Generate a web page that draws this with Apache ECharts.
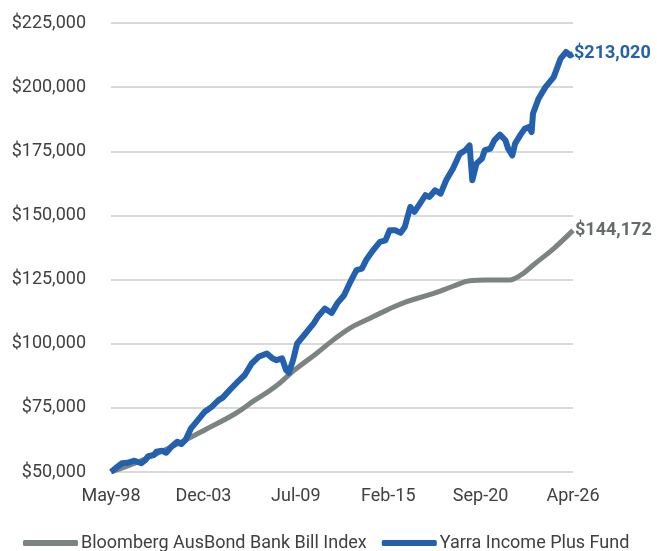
<!DOCTYPE html>
<html>
<head>
<meta charset="utf-8">
<script src="https://cdn.jsdelivr.net/npm/echarts@6/dist/echarts.min.js"></script>
<style>
  html, body { margin: 0; padding: 0; background: #fff; }
  #chart { width: 657px; height: 551px; }
</style>
</head>
<body>
<div id="chart"></div>
<script>
const xTickLabels = ['May-98', 'Dec-03', 'Jul-09', 'Feb-15', 'Sep-20', 'Apr-26'];
const seriesNames = ['Bloomberg AusBond Bank Bill Index', 'Yarra Income Plus Fund'];

const benchDates = ['1998-05', '2000-01', '2001-08', '2002-11', '2004-01', '2005-11', '2007-01',
  '2008-04', '2009-06', '2010-10', '2011-10', '2012-10', '2013-10', '2015-01', '2016-03', '2017-11',
  '2019-01', '2020-01', '2021-01', '2022-05', '2023-02', '2023-11', '2025-02', '2026-04'];
const benchValues = [50000, 54000, 58600, 62500, 66400, 72700, 77900,
  83200, 89700, 96200, 101400, 106000, 109200, 113100, 116300, 119600,
  122400, 124500, 124800, 124800, 126700, 130600, 137100, 144172];

const fundDates = ['1998-05', '1998-09', '1999-01', '1999-05', '1999-10', '2000-03', '2000-06', '2000-08',
  '2000-12', '2001-02', '2001-06', '2001-09', '2002-01', '2002-05', '2002-08', '2002-11', '2003-03',
  '2003-08', '2004-01', '2004-06', '2004-11', '2005-02', '2005-07', '2006-01', '2006-06', '2006-11',
  '2007-04', '2007-10', '2008-02', '2008-05', '2008-09', '2008-12', '2009-02', '2009-05', '2009-08',
  '2010-01', '2010-04', '2010-08', '2010-11', '2011-04', '2011-09', '2012-01', '2012-06', '2012-10',
  '2013-03', '2013-07', '2013-10', '2014-03', '2014-08', '2014-12', '2015-03', '2015-07', '2015-11',
  '2016-02', '2016-06', '2016-09', '2017-01', '2017-05', '2017-08', '2017-12', '2018-04', '2018-08',
  '2019-01', '2019-06', '2019-10', '2020-01', '2020-03', '2020-06', '2020-10', '2020-12', '2021-04',
  '2021-07', '2021-11', '2022-03', '2022-05', '2022-08', '2022-10', '2023-02', '2023-05', '2023-08',
  '2023-10', '2023-11', '2024-03', '2024-08', '2025-02', '2025-07', '2025-11', '2026-02', '2026-04'];
const fundValues = [50000, 51800, 53400, 53600, 54400, 53400, 54700, 56200,
  56600, 57900, 58300, 57500, 59900, 61800, 60900, 62500, 67000,
  70200, 73500, 75400, 78000, 79000, 81900, 85200, 87800, 92300,
  94900, 96200, 94300, 93600, 94300, 89700, 88700, 93600, 100100,
  103300, 105300, 107900, 110500, 113700, 112000, 115700, 118900, 123500,
  128700, 129300, 132600, 136400, 139700, 140300, 144200, 144200, 143200,
  145500, 153300, 151400, 154600, 157900, 157200, 159800, 158500, 163700,
  168300, 174100, 175400, 177300, 163700, 170200, 172200, 175400, 176000,
  179300, 181500, 179300, 176000, 173400, 178000, 181500, 183800, 184500,
  182500, 189700, 195500, 200000, 203900, 211100, 213700, 212400, 213020];

// months since May-98
function monthIndex(d) {
  const [y, m] = d.split('-').map(Number);
  return (y - 1998) * 12 + (m - 5);
}
function pairs(dates, values) {
  return dates.map((d, i) => [monthIndex(d), values[i]]);
}
function money(v) {
  return '$' + Math.round(v).toLocaleString('en-US');
}

const blue = '#2360ad';
const grey = '#7c8481';

const chart = echarts.init(document.getElementById('chart'));
const option = {
  animation: false,
  textStyle: { fontFamily: 'Roboto' },
  grid: { left: 111, right: 84, top: 23, bottom: 79 },
  legend: {
    top: 529,
    left: 18,
    icon: 'roundRect',
    itemWidth: 55,
    itemHeight: 6,
    itemGap: 15,
    textStyle: { fontSize: 18, color: '#404040', fontFamily: 'Roboto', padding: [0, 0, 0, -2] },
    data: seriesNames
  },
  xAxis: {
    type: 'value',
    min: 0,
    max: 335,
    interval: 67,
    axisLine: { show: false },
    axisTick: { show: false },
    splitLine: { show: false },
    axisLabel: {
      fontSize: 18,
      color: '#404040',
      margin: 15,
      formatter: v => xTickLabels[Math.round(v / 67)] || ''
    }
  },
  yAxis: {
    type: 'value',
    min: 50000,
    max: 225000,
    interval: 25000,
    axisLine: { show: false },
    axisTick: { show: false },
    splitLine: { lineStyle: { color: '#d9d9d9', width: 2 } },
    axisLabel: {
      fontSize: 18,
      color: '#404040',
      margin: 25,
      formatter: v => money(v)
    }
  },
  series: [
    {
      name: seriesNames[0],
      type: 'line',
      data: pairs(benchDates, benchValues),
      smooth: 0.4,
      symbol: 'none',
      lineStyle: { color: grey, width: 5 },
      itemStyle: { color: grey },
      endLabel: {
        show: true,
        distance: 2,
        fontSize: 18,
        fontWeight: 'bold',
        color: '#656b68',
        formatter: p => money(p.value[1])
      }
    },
    {
      name: seriesNames[1],
      type: 'line',
      data: pairs(fundDates, fundValues),
      symbol: 'none',
      lineStyle: { color: blue, width: 6, join: 'round' },
      itemStyle: { color: blue },
      endLabel: {
        show: true,
        distance: 1,
        fontSize: 18,
        fontWeight: 'bold',
        color: blue,
        formatter: p => money(p.value[1])
      }
    }
  ]
};
chart.setOption(option);
</script>
</body>
</html>
